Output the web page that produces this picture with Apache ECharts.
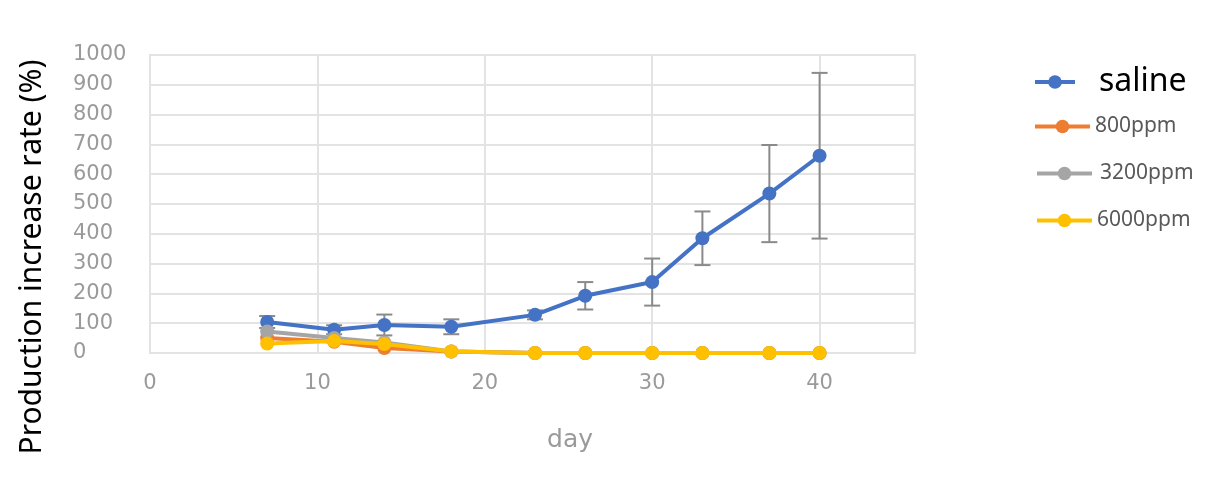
<!DOCTYPE html>
<html>
<head>
<meta charset="utf-8">
<script src="https://cdn.jsdelivr.net/npm/echarts@6/dist/echarts.min.js"></script>
<style>html,body{margin:0;padding:0;background:#fff;}#c{width:1213px;height:492px;}</style>
</head>
<body>
<div id="c"></div>
<script>
var days = [7, 11, 14, 18, 23, 26, 30, 33, 37, 40];
var saline = [104, 78, 94, 88, 128, 192, 238, 385, 535, 662];
var salineErr = [20, 15, 35, 25, 15, 46, 79, 90, 163, 278];
var ppm800 = [50, 38, 17, 5, 0, 0, 0, 0, 0, 0];
var ppm3200 = [72, 50, 35, 5, 0, 0, 0, 0, 0, 0];
var ppm6000 = [32, 40, 30, 5, 0, 0, 0, 0, 0, 0];
var xTicks = [0, 10, 20, 30, 40];
var yTicks = [0, 100, 200, 300, 400, 500, 600, 700, 800, 900, 1000];
var names = ['saline', '800ppm', '3200ppm', '6000ppm'];
var colors = ['#4472C4', '#ED7D31', '#A5A5A5', '#FFC000'];

function pairs(vals) { return days.map(function (d, i) { return [d, vals[i]]; }); }
var errData = days.map(function (d, i) { return [d, saline[i] - salineErr[i], saline[i] + salineErr[i]]; });

var chart = echarts.init(document.getElementById('c'), null, { renderer: 'canvas' });

function lineSeries(name, vals, color, z) {
  return {
    name: name, type: 'line', data: pairs(vals), z: z,
    symbol: 'circle', symbolSize: 14,
    lineStyle: { color: color, width: 4 },
    itemStyle: { color: color },
    emphasis: { disabled: true }, animation: false
  };
}

var legendBase = function (name, left, top, fs, col, w, pad) {
  return {
    data: [name], left: left, top: top, itemWidth: w, itemHeight: 17, padding: 0,
    lineStyle: { width: 4 },
    textStyle: { fontSize: fs, color: col, fontFamily: 'Noto Sans', padding: pad },
    selectedMode: false
  };
};

chart.setOption({
  animation: false,
  color: colors,
  grid: { left: 150, right: 298, top: 55, bottom: 139, show: true, borderColor: '#e3e3e3', borderWidth: 2 },
  xAxis: {
    type: 'value', min: 0, max: 45.7, interval: 10,
    axisLine: { show: false }, axisTick: { show: false },
    splitLine: { show: true, lineStyle: { color: '#e3e3e3', width: 2 } },
    axisLabel: {
      margin: 20, fontSize: 21, color: '#9a9a9a', fontFamily: 'DejaVu Sans', showMaxLabel: false,
      formatter: function (v) { return xTicks.indexOf(v) >= 0 ? String(v) : ''; }
    }
  },
  yAxis: {
    type: 'value', min: 0, max: 1000, interval: 100,
    axisLine: { show: false }, axisTick: { show: false },
    splitLine: { show: true, lineStyle: { color: '#e3e3e3', width: 2 } },
    axisLabel: {
      margin: 77, align: 'left', fontSize: 21, color: '#9a9a9a', fontFamily: 'DejaVu Sans',
      formatter: function (v) { return yTicks.indexOf(v) >= 0 ? String(v) : ''; }
    }
  },
  legend: [
    legendBase('saline', 1033, 66, 32, '#000000', 40, [0, 0, 0, 19]),
    legendBase('800ppm', 1033, 116, 21, '#595959', 55, [0, 0, 0, 0]),
    legendBase('3200ppm', 1035, 163, 21, '#595959', 55, [0, 0, 0, 3]),
    legendBase('6000ppm', 1035, 210, 21, '#595959', 55, [0, 0, 0, 0])
  ],
  graphic: [
    { type: 'text', x: 32, y: 257, rotation: Math.PI / 2,
      style: { text: 'Production increase rate (%)', font: '30px "Noto Sans"', fill: '#000',
               textAlign: 'center', textVerticalAlign: 'middle', align: 'center', verticalAlign: 'middle' } },
    { type: 'text', x: 570, y: 440,
      style: { text: 'day', font: '25px "DejaVu Sans"', fill: '#9a9a9a',
               textAlign: 'center', textVerticalAlign: 'middle', align: 'center', verticalAlign: 'middle' } }
  ],
  series: [
    {
      type: 'custom', name: 'err', data: errData, z: 1, silent: true,
      renderItem: function (params, api) {
        var x = api.value(0);
        var lo = api.coord([x, api.value(1)]);
        var hi = api.coord([x, api.value(2)]);
        var hw = 8;
        var st = { stroke: '#8a8a8a', lineWidth: 2 };
        return {
          type: 'group', children: [
            { type: 'line', shape: { x1: lo[0], y1: lo[1], x2: hi[0], y2: hi[1] }, style: st },
            { type: 'line', shape: { x1: lo[0] - hw, y1: lo[1], x2: lo[0] + hw, y2: lo[1] }, style: st },
            { type: 'line', shape: { x1: hi[0] - hw, y1: hi[1], x2: hi[0] + hw, y2: hi[1] }, style: st }
          ]
        };
      }
    },
    lineSeries('saline', saline, colors[0], 2),
    lineSeries('800ppm', ppm800, colors[1], 3),
    lineSeries('3200ppm', ppm3200, colors[2], 4),
    lineSeries('6000ppm', ppm6000, colors[3], 5)
  ]
});
</script>
</body>
</html>
